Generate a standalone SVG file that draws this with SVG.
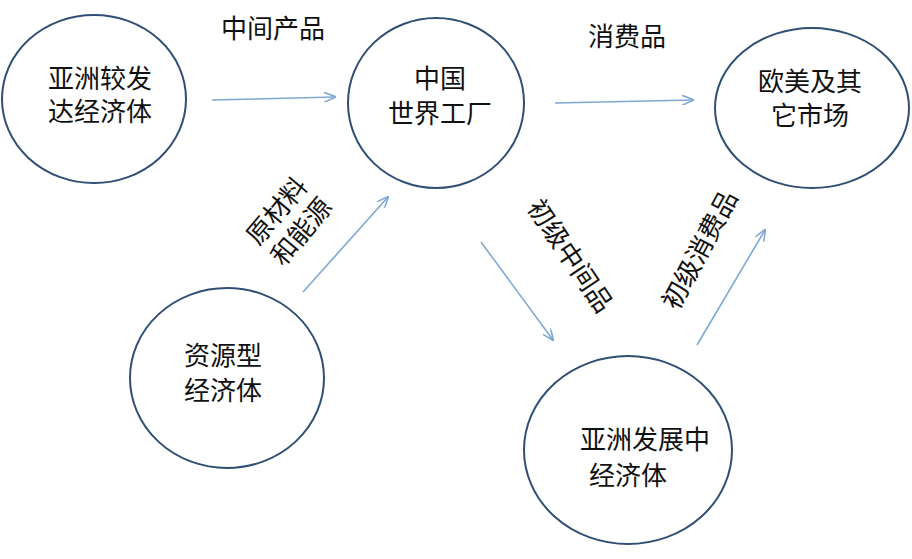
<svg xmlns="http://www.w3.org/2000/svg" width="912" height="559" viewBox="0 0 912 559">
<style>
.n{fill:#fff;stroke:#2f4f74;stroke-width:2}
.t{font-family:"Liberation Serif","Noto Sans CJK SC",serif;font-size:26px;fill:#111;text-anchor:middle}
.c{stroke:#7fa9d2;stroke-width:1.6;fill:none;marker-end:url(#a)}
</style>
<defs><marker id="a" markerWidth="12" markerHeight="10" refX="11" refY="5" orient="auto" markerUnits="userSpaceOnUse"><path d="M0,0 L12,5 L0,10" fill="none" stroke="#7fa9d2" stroke-width="1.6"/></marker></defs>
<rect width="912" height="559" fill="#fff"/>
<g id="n1"><ellipse class="n" cx="94" cy="99" rx="92" ry="84"/><text class="t" x="100" y="88">亚洲较发</text><text class="t" x="100" y="121">达经济体</text></g>
<g id="n2"><ellipse class="n" cx="436" cy="103" rx="88" ry="85"/><text class="t" x="440" y="88">中国</text><text class="t" x="440" y="123">世界工厂</text></g>
<g id="n3"><ellipse class="n" cx="812" cy="108" rx="97" ry="80"/><text class="t" x="810" y="91">欧美及其</text><text class="t" x="810" y="125">它市场</text></g>
<g id="n4"><ellipse class="n" cx="227" cy="378" rx="97" ry="90"/><text class="t" x="223" y="365">资源型</text><text class="t" x="223" y="400">经济体</text></g>
<g id="n5"><ellipse class="n" cx="628" cy="450" rx="104" ry="94"/><text class="t" x="645" y="449">亚洲发展中</text><text class="t" x="628" y="485">经济体</text></g>
<g id="connectors">
<line class="c" x1="212" y1="100" x2="335" y2="97"/>
<line class="c" x1="555" y1="103" x2="693" y2="100"/>
<line class="c" x1="303" y1="292" x2="388" y2="197"/>
<line class="c" x1="481" y1="242" x2="553" y2="340"/>
<line class="c" x1="697" y1="345" x2="765" y2="230"/>
</g>
<g id="labels">
<text class="t" x="273" y="38">中间产品</text>
<text class="t" x="627" y="46">消费品</text>
<g transform="translate(290,222) rotate(-50)"><text class="t" x="0" y="-8">原材料</text><text class="t" x="0" y="24">和能源</text></g>
<text class="t" transform="translate(570,256) rotate(56)" x="0" y="9">初级中间品</text>
<text class="t" transform="translate(700,250) rotate(-62)" x="0" y="9">初级消费品</text>
</g>
</svg>
